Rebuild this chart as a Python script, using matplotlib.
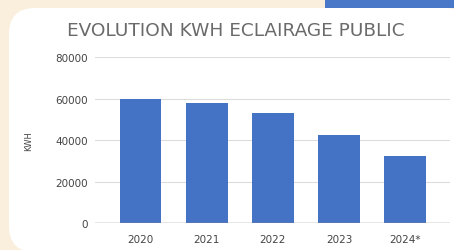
import matplotlib.pyplot as plt
from matplotlib.patches import FancyBboxPatch, Rectangle

# Data
years = ['2020', '2021', '2022', '2023', '2024*']
kwh = [60000, 57800, 52900, 42500, 32200]
y_ticks = [0, 20000, 40000, 60000, 80000]

W, H = 454, 251
fig = plt.figure(figsize=(W / 100, H / 100), dpi=100)
fig.patch.set_facecolor('#faefdc')

# Background layer in pixel coordinates
bg = fig.add_axes([0, 0, 1, 1])
bg.set_xlim(0, W)
bg.set_ylim(H, 0)
bg.axis('off')
bg.add_patch(Rectangle((325, -5), 140, 14, color='#4a78c8', lw=0))
bg.add_patch(FancyBboxPatch((9, 9), 461, 244, boxstyle='round,pad=0,rounding_size=26',
                            facecolor='white', edgecolor='none'))

# Chart
ax = fig.add_axes([95 / W, (H - 224) / H, 355 / W, (224 - 58.3) / H])
ax.set_facecolor('none')
ax.bar(range(len(years)), kwh, width=0.63, color='#4472c4', zorder=3)
ax.set_xlim(-0.69, 4.68)
ax.set_ylim(0, 80000)
ax.set_yticks(y_ticks)
ax.set_yticklabels([str(v) for v in y_ticks])
ax.set_xticks(range(len(years)))
ax.set_xticklabels(years)
ax.grid(axis='y', color='#dcdcdc', lw=0.8, zorder=0)
ax.axhline(0, color='#9a8a80', lw=1, zorder=4)
for s in ax.spines.values():
    s.set_visible(False)
ax.tick_params(axis='both', length=0, labelsize=7.5, labelcolor='#444444')
ax.tick_params(axis='y', pad=5)
ax.tick_params(axis='x', pad=8)
ax.set_ylabel('KWH', fontsize=6, color='#444444', labelpad=16)

fig.text(236 / W, 1 - 31 / H, 'EVOLUTION KWH ECLAIRAGE PUBLIC', ha='center', va='center',
         fontsize=13.3, color='#6a6a6a')

fig.savefig('out.png', dpi=100)
